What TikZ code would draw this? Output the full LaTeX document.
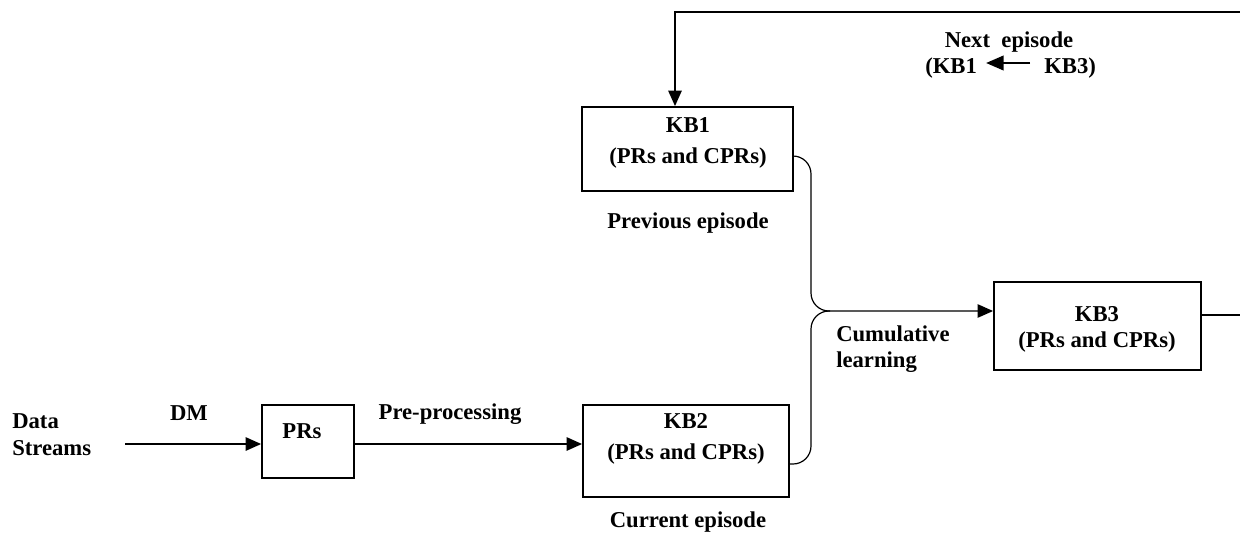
\documentclass[tikz,border=0pt]{standalone}
\usepackage{fontspec}
\setmainfont{Liberation Serif}
\usetikzlibrary{arrows.meta}
\begin{document}
\begin{tikzpicture}[x=0.75pt,y=-0.75pt,
  box/.style={draw,line width=1.4pt,inner sep=0},
  lab/.style={inner sep=0,font=\fontsize{17}{20}\selectfont\bfseries},
  conn/.style={line width=1.1pt,-{Triangle[length=11.5pt,width=10pt]}},
  bendline/.style={line width=0.9pt,rounded corners=13.5pt}]
\useasboundingbox (0,0) rectangle (1240,533);
% boxes
\node[box,minimum width=69pt,minimum height=54.75pt] (prs) at (308,441.5) {};
\node[box,minimum width=158.25pt,minimum height=63pt] (kb1) at (687.5,149) {};
\node[box,minimum width=154.5pt,minimum height=69pt] (kb2) at (686,451) {};
\node[box,minimum width=155.25pt,minimum height=66pt] (kb3) at (1097.5,326) {};
% texts
\node[lab,anchor=base west] (ds1) at (12,428) {Data};
\node[lab,anchor=base west] (ds2) at (12,455) {Streams};
\node[lab,anchor=base] (dm) at (189,420) {DM};
\node[lab,anchor=base] (pp) at (450,419) {Pre-processing};
\node[lab,anchor=base] (prst) at (302,438) {PRs};
\node[lab,anchor=base] (kb1a) at (688,132) {KB1};
\node[lab,anchor=base] (kb1b) at (688,163) {(PRs and CPRs)};
\node[lab,anchor=base] (prev) at (688,228) {Previous episode};
\node[lab,anchor=base] (kb2a) at (686,428) {KB2};
\node[lab,anchor=base] (kb2b) at (686,459) {(PRs and CPRs)};
\node[lab,anchor=base] (cur) at (688,527) {Current episode};
\node[lab,anchor=base] (kb3a) at (1097,321) {KB3};
\node[lab,anchor=base] (kb3b) at (1097,347) {(PRs and CPRs)};
\node[lab,anchor=base west] (cum1) at (836,341) {Cumulative};
\node[lab,anchor=base west] (cum2) at (836,367) {learning};
\node[lab,anchor=base] (nx) at (1009,47) {Next~~episode};
\node[lab,anchor=base west] (nxa) at (925,73) {(KB1};
\node[lab,anchor=base west] (nxb) at (1044,73) {KB3)};
% coordinates
\coordinate (dsa) at (125,444);
\coordinate (j) at (811,311);
\coordinate (fr) at (1242,12);
% connectors
\draw[conn] (dsa) -- (prs.west |- dsa);
\draw[conn] (prs.east |- dsa) -- (kb2.west |- dsa);
\draw[bendline,-{Triangle[length=11.5pt,width=10pt]}] ([shift={(0,7)}]kb1.east) -| (j) -- (kb3.west |- j);
\draw[bendline] ([shift={(0,13)}]kb2.east) -| (j) -- ++(19,0);
\draw[conn] ([shift={(0,-11)}]kb3.east) -| (fr) -| ([shift={(-12.5,0)}]kb1.north);
\draw[line width=1.1pt,-{Triangle[length=13pt,width=11pt]}] ([shift={(-14,-10)}]nxb.base west) -- ([shift={(9,-10)}]nxa.base east);
\end{tikzpicture}
\end{document}
